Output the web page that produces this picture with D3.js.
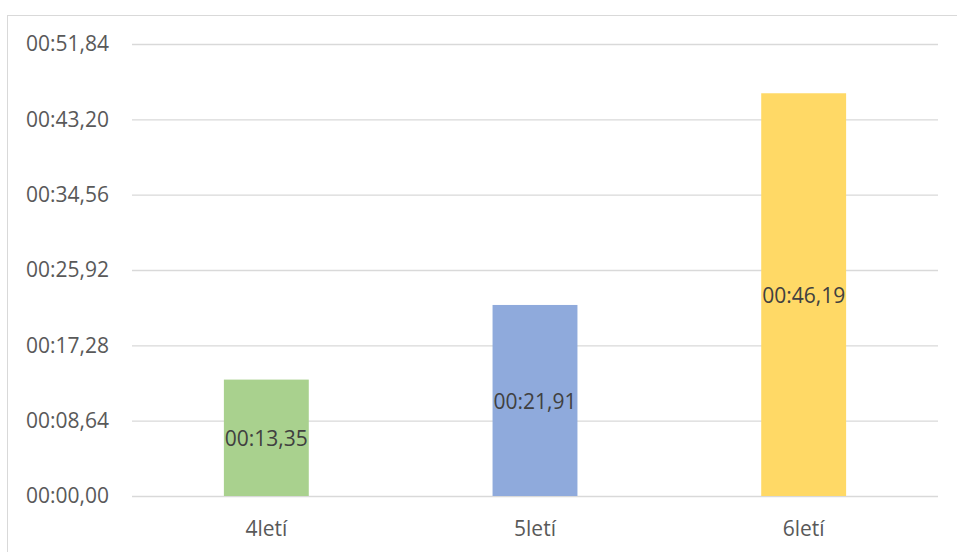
<!DOCTYPE html>
<html>
<head>
<meta charset="utf-8">
<script src="https://cdn.jsdelivr.net/npm/d3@7"></script>
<style>
  html, body { margin: 0; padding: 0; background: #fff; }
  svg { display: block; }
  text { font-family: "Open Sans", "Liberation Sans", sans-serif; }
</style>
</head>
<body>
<svg id="chart" width="957" height="552"></svg>
<script>
// Categories and times (seconds)
const categories = ["4letí", "5letí", "6letí"];
const times = [13.35, 21.91, 46.19];
const barColors = ["#A9D18E", "#8FAADC", "#FFD966"];
// Axis ticks in seconds (step = 0.0001 day = 8.64 s)
const tickValues = [0, 8.64, 17.28, 25.92, 34.56, 43.20, 51.84];

const svg = d3.select("#chart");
const W = 957, H = 552;
const plot = { left: 132, right: 938, top: 44, bottom: 496 };

// Chart frame
svg.append("rect")
  .attr("x", 7.5).attr("y", 15.5)
  .attr("width", W - 7).attr("height", H - 15)
  .attr("fill", "#fff")
  .attr("stroke", "#D9D9D9").attr("stroke-width", 1);

const x = d3.scaleBand()
  .domain(categories)
  .range([plot.left, plot.right])
  .paddingInner(0.684)
  .paddingOuter(0.342);

const y = d3.scaleLinear()
  .domain([0, 51.84])
  .range([plot.bottom, plot.top]);

// mm:ss,ff
function fmt(sec) {
  const m = Math.floor(sec / 60);
  const s = sec - m * 60;
  const whole = Math.floor(s + 1e-9);
  const hund = Math.round((s - whole) * 100);
  return String(m).padStart(2, "0") + ":" + String(whole).padStart(2, "0") + "," + String(hund).padStart(2, "0");
}

// Horizontal gridlines + y labels
const yAxis = d3.axisLeft(y)
  .tickValues(tickValues)
  .tickSize(-(plot.right - plot.left))
  .tickPadding(23)
  .tickFormat(fmt);

const gy = svg.append("g")
  .attr("transform", `translate(${plot.left},0)`)
  .call(yAxis);
gy.select(".domain").remove();
gy.selectAll(".tick line").attr("stroke", "#D9D9D9").attr("stroke-width", 1.3);
gy.selectAll(".tick text")
  .attr("fill", "#595959")
  .style("font-size", "21px");

// Bars
svg.append("g").selectAll("rect")
  .data(categories)
  .join("rect")
  .attr("x", d => x(d))
  .attr("width", x.bandwidth())
  .attr("y", (d, i) => y(times[i]))
  .attr("height", (d, i) => y(0) - y(times[i]))
  .attr("fill", (d, i) => barColors[i]);

// Category axis labels
const xAxis = d3.axisBottom(x).tickSize(0).tickPadding(25);
const gx = svg.append("g")
  .attr("transform", `translate(0,${plot.bottom})`)
  .call(xAxis);
gx.select(".domain").remove();
gx.selectAll(".tick text")
  .attr("fill", "#595959")
  .style("font-size", "21px");

// Value labels, centred inside each bar
svg.append("g").selectAll("text")
  .data(categories)
  .join("text")
  .attr("x", d => x(d) + x.bandwidth() / 2)
  .attr("y", (d, i) => (y(times[i]) + y(0)) / 2)
  .attr("dy", "0.4em")
  .attr("text-anchor", "middle")
  .attr("fill", "#404040")
  .style("font-size", "21px")
  .text((d, i) => fmt(times[i]));
</script>
</body>
</html>
